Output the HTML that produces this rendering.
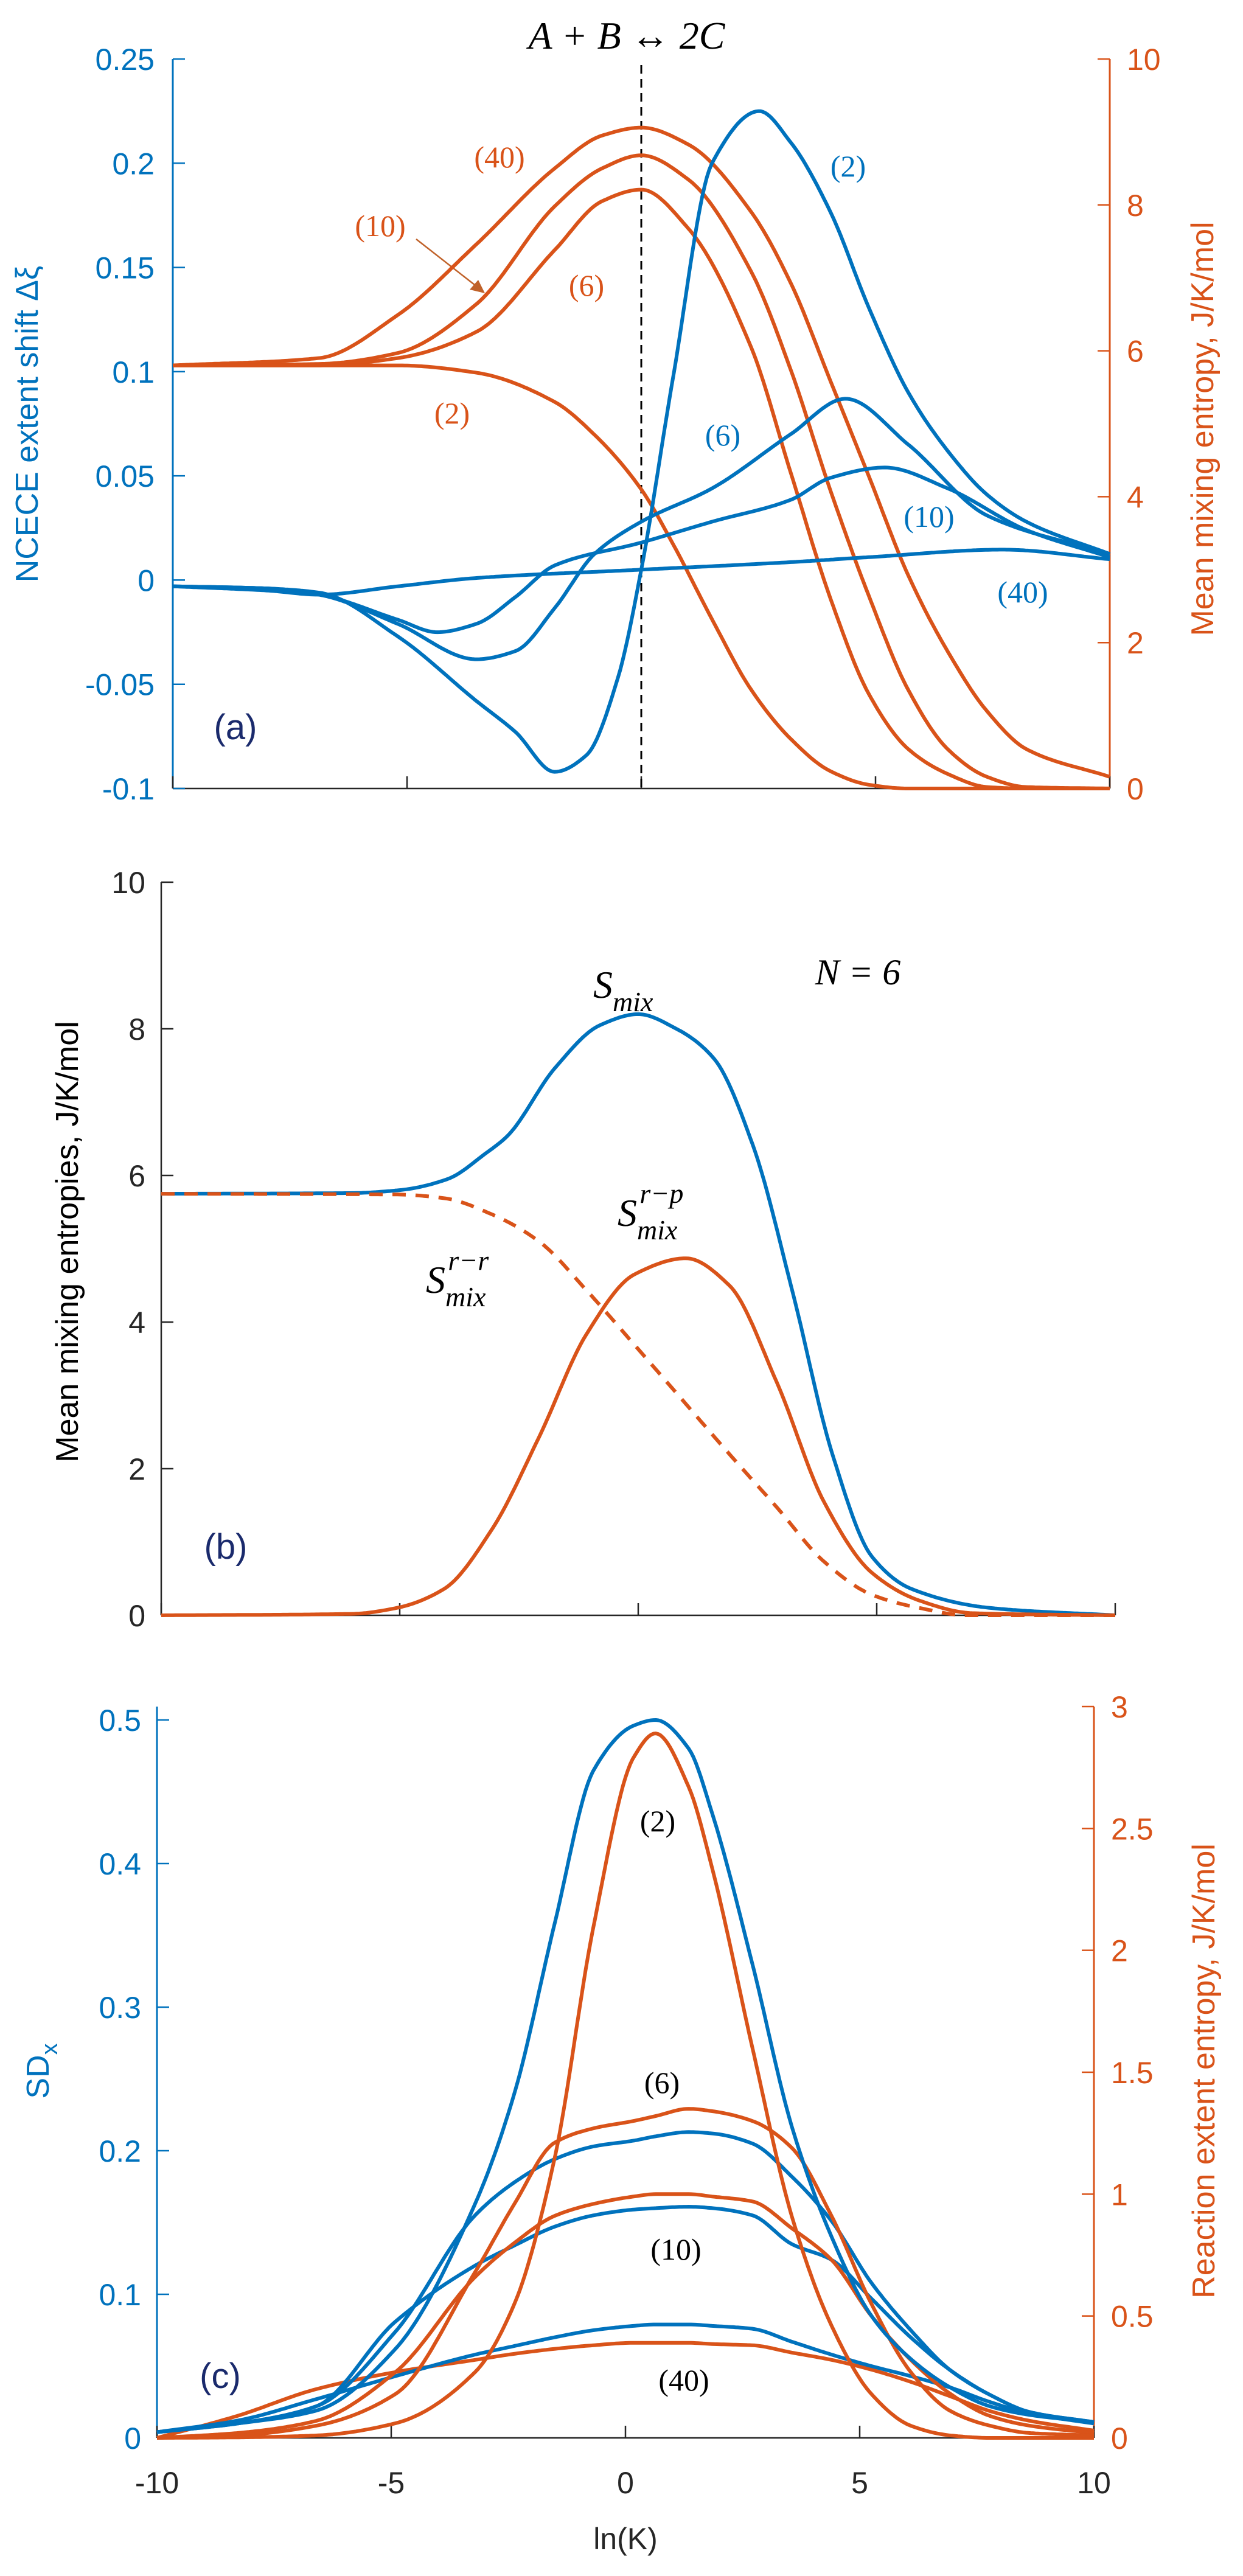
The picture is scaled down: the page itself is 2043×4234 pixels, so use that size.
<!DOCTYPE html>
<html><head><meta charset="utf-8">
<style>
html,body{margin:0;padding:0;background:#fff;}
svg{display:block;}
text{font-family:"Liberation Sans",Arial,sans-serif;}
.ser{font-family:"Liberation Serif","DejaVu Serif",serif;font-style:italic;}
.lbl{font-family:"Liberation Serif","DejaVu Serif",serif;}
</style></head>
<body>
<svg id="fig" width="2043" height="4234" viewBox="0 0 2043 4234" xmlns="http://www.w3.org/2000/svg"></svg>
<script>
// ---------- Panel (a) data ----------
const aX2  = [-10,-8,-6.88,-5.2,-3.52,-2.68,-1.85,-1.17,-0.5,0,0.67,1.51,2.52,3.19,4.03,4.87,5.7,6.54,7.38,8.22,10];
const aB2  = [-0.003,-0.004,-0.006,-0.027,-0.058,-0.073,-0.092,-0.084,-0.047,0.005,0.096,0.2,0.225,0.21,0.177,0.13,0.09,0.062,0.041,0.028,0.0125];
const aX6  = [-10,-8,-6.88,-5.2,-3.52,-2.68,-1.85,-1.0,0,1.51,3.19,4.36,5.7,7.38,10];
const aB6  = [-0.003,-0.004,-0.007,-0.021,-0.038,-0.034,-0.0135,0.0125,0.028,0.044,0.07,0.087,0.065,0.031,0.0125];
const aX10 = [-10,-8,-6.88,-5.2,-4.36,-3.52,-2.68,-1.85,0,1.51,3.19,4.03,5.2,6.54,8.22,10];
const aB10 = [-0.003,-0.004,-0.007,-0.019,-0.025,-0.021,-0.008,0.007,0.018,0.028,0.0385,0.049,0.054,0.044,0.024,0.011];
const aX40 = [-10,-8,-6.88,-5.2,-3.52,0,3.19,4.87,7.72,10];
const aB40 = [-0.003,-0.005,-0.007,-0.003,0.001,0.005,0.0086,0.011,0.0146,0.010];
const aOX2 = [-10,-5.2,-3.52,-1.85,-1.0,0,0.67,1.51,2.35,3.19,4.03,4.87,5.7,10];
const aO2  = [5.8,5.8,5.7,5.3,4.85,4.1,3.36,2.32,1.35,0.68,0.24,0.05,0,0];
const aOX  = [-10,-6.88,-5.2,-3.52,-1.85,-0.84,0,1.0,2.35,3.19,4.03,4.87,5.7,6.54,7.38,8.22,10];
const aO6  = [5.8,5.8,5.9,6.26,7.38,8.05,8.21,7.68,6.04,4.33,2.62,1.28,0.54,0.2,0.02,0,0];
const aO10 = [5.8,5.82,5.97,6.64,7.98,8.5,8.68,8.35,7.08,5.74,4.1,2.62,1.35,0.54,0.16,0.02,0];
const aO40 = [5.8,5.9,6.49,7.46,8.5,8.95,9.06,8.83,7.9,6.93,5.6,4.26,2.92,1.88,1.06,0.54,0.16];
const aLeftTicks  = [0.25,0.2,0.15,0.1,0.05,0,-0.05,-0.1];
const aLeftLabels = ["0.25","0.2","0.15","0.1","0.05","0","-0.05","-0.1"];
const aRightTicks = [0,2,4,6,8,10];
// ---------- Panel (b) data ----------
const bXs  = [-10,-6,-5,-4,-3.2,-2.74,-1.74,-0.8,0,0.8,1.58,2.41,3.24,4.07,4.9,5.73,7.39,10];
const bSmix= [5.75,5.76,5.8,5.95,6.3,6.54,7.47,8.05,8.2,8.0,7.6,6.4,4.4,2.2,0.8,0.36,0.1,0];
const bXp  = [-10,-6,-5.07,-4.07,-3.07,-2.08,-1.08,-0.08,1.0,1.91,2.91,3.9,4.9,5.9,7.0,10];
const bSrp = [0,0.02,0.1,0.36,1.17,2.43,3.84,4.65,4.87,4.5,3.17,1.54,0.58,0.2,0.03,0];
const bXr  = [-10,-5.07,-4.07,-3.07,-2.08,-1.08,-0.08,0.91,1.91,2.91,3.9,4.9,5.9,6.89,10];
const bSrr = [5.75,5.74,5.69,5.47,5.1,4.43,3.69,2.95,2.2,1.47,0.73,0.28,0.1,0,0];
const bTicks = [0,2,4,6,8,10];
// ---------- Panel (c) data ----------
const cX   = [-10,-8.29,-6.6,-4.91,-3.21,-2.37,-1.52,-0.68,0.17,0.64,1.35,1.86,2.71,3.55,4.4,5.25,6.09,6.94,7.78,8.63,10];
const cB2  = [0.004,0.01,0.019,0.062,0.163,0.24,0.357,0.465,0.496,0.5,0.48,0.434,0.33,0.217,0.14,0.085,0.055,0.035,0.022,0.016,0.011];
const cO2  = [0,0.002,0.01,0.06,0.27,0.55,1.14,2.1,2.79,2.89,2.67,2.33,1.6,0.91,0.46,0.18,0.05,0.01,0,0,0];
const cB6  = [0.004,0.01,0.022,0.074,0.155,0.178,0.194,0.203,0.207,0.21,0.213,0.212,0.205,0.182,0.151,0.108,0.075,0.047,0.03,0.018,0.011];
const cO6  = [0,0.01,0.05,0.18,0.68,0.96,1.21,1.27,1.3,1.32,1.35,1.34,1.3,1.19,0.91,0.55,0.27,0.11,0.05,0.02,0.01];
const cB10 = [0.004,0.01,0.022,0.081,0.12,0.134,0.147,0.155,0.159,0.16,0.161,0.16,0.155,0.135,0.124,0.097,0.07,0.047,0.03,0.018,0.011];
const cO10 = [0,0.02,0.07,0.27,0.66,0.8,0.91,0.96,0.99,1.0,1.0,0.99,0.97,0.86,0.73,0.5,0.32,0.18,0.09,0.05,0.02];
const cB40 = [0.004,0.012,0.027,0.043,0.058,0.064,0.07,0.075,0.078,0.079,0.079,0.078,0.076,0.067,0.058,0.05,0.043,0.035,0.025,0.017,0.01];
const cO40 = [0,0.09,0.2,0.27,0.32,0.345,0.365,0.38,0.39,0.39,0.39,0.385,0.38,0.35,0.32,0.28,0.23,0.17,0.11,0.07,0.03];
const cLeftTicks = [0,0.1,0.2,0.3,0.4,0.5];
const cRightTicks = [0,0.5,1,1.5,2,2.5,3];
const xTicks = [-10,-5,0,5,10];

const BLUE="#0072BD", ORANGE="#D95319", DARK="#262626";
const NS="http://www.w3.org/2000/svg";
const svg=document.getElementById('fig');

function mk(tag,attrs,parent){const e=document.createElementNS(NS,tag);for(const k in attrs)e.setAttribute(k,attrs[k]);(parent||svg).appendChild(e);return e;}
function scale(d0,d1,r0,r1){return v=>r0+(v-d0)*(r1-r0)/(d1-d0);}
// monotone cubic (PCHIP) interpolation, sampled densely
function pchip(xs,ys){
  const n=xs.length,h=[],dl=[],m=new Array(n).fill(0);
  for(let i=0;i<n-1;i++){h.push(xs[i+1]-xs[i]);dl.push((ys[i+1]-ys[i])/h[i]);}
  m[0]=dl[0];m[n-1]=dl[n-2];
  for(let i=1;i<n-1;i++){
    if(dl[i-1]*dl[i]<=0){m[i]=0;}
    else{const w1=2*h[i]+h[i-1],w2=h[i]+2*h[i-1];m[i]=(w1+w2)/(w1/dl[i-1]+w2/dl[i]);}
  }
  return x=>{
    let i=0;while(i<n-2&&x>xs[i+1])i++;
    const t=(x-xs[i])/h[i],t2=t*t,t3=t2*t;
    return (2*t3-3*t2+1)*ys[i]+(t3-2*t2+t)*h[i]*m[i]+(-2*t3+3*t2)*ys[i+1]+(t3-t2)*h[i]*m[i+1];
  };
}
function line(xs,ys,sx,sy,color,name,dash){
  const f=pchip(xs,ys);const N=400;let d="";
  for(let k=0;k<=N;k++){const x=xs[0]+(xs[xs.length-1]-xs[0])*k/N;d+=(k?"L":"M")+sx(x).toFixed(1)+","+sy(f(x)).toFixed(1);}
  const p=mk('path',{d:d,fill:'none',stroke:color,'stroke-width':6,'stroke-linejoin':'round','stroke-linecap':'butt'});
  if(dash)p.setAttribute('stroke-dasharray',dash);
  
  
  return p;
}
function txt(x,y,s,opts){
  const t=mk('text',Object.assign({x:x,y:y},opts||{}));t.textContent=s;return t;
}

// ================= Panel (a) =================
{
const L=284,R=1824,T=97,B=1296;
const sx=scale(-10,10,L,R), sy=scale(-0.1,0.25,B,T), sr=scale(0,10,B,T);
const g=mk('g',{});


mk('line',{x1:L,y1:B,x2:R,y2:B,stroke:DARK,'stroke-width':2.5},g);
mk('line',{x1:L,y1:T,x2:L,y2:B,stroke:BLUE,'stroke-width':3},g);
mk('line',{x1:R,y1:T,x2:R,y2:B,stroke:ORANGE,'stroke-width':3},g);
aLeftTicks.forEach((v,i)=>{
  mk('line',{x1:L,y1:sy(v),x2:L+20,y2:sy(v),stroke:BLUE,'stroke-width':2.5},g);
  const t=txt(L-30,sy(v)+18,aLeftLabels[i],{'text-anchor':'end','font-size':50,fill:BLUE});
  
  
});
aRightTicks.forEach(v=>{
  mk('line',{x1:R,y1:sr(v),x2:R-20,y2:sr(v),stroke:ORANGE,'stroke-width':2.5},g);
  const t=txt(R+28,sr(v)+18,String(v),{'text-anchor':'start','font-size':50,fill:ORANGE});
  
  
});
xTicks.forEach(v=>{mk('line',{x1:sx(v),y1:B,x2:sx(v),y2:B-20,stroke:DARK,'stroke-width':2.5},g);});
const dl=mk('line',{x1:sx(0),y1:T+10,x2:sx(0),y2:B,stroke:'#000','stroke-width':3,'stroke-dasharray':'14,9'},g);


line(aOX,aO40,sx,sr,ORANGE,'a-entropy-n40');
line(aOX,aO10,sx,sr,ORANGE,'a-entropy-n10');
line(aOX,aO6,sx,sr,ORANGE,'a-entropy-n6');
line(aOX2,aO2,sx,sr,ORANGE,'a-entropy-n2');
line(aX2,aB2,sx,sy,BLUE,'a-shift-n2');
line(aX6,aB6,sx,sy,BLUE,'a-shift-n6');
line(aX10,aB10,sx,sy,BLUE,'a-shift-n10');
line(aX40,aB40,sx,sy,BLUE,'a-shift-n40');
const ttl=txt(1030,80,'A + B ↔ 2C',{'text-anchor':'middle','font-size':64,fill:'#000',class:'ser'});


const yl=txt(0,0,'NCECE extent shift Δξ',{'text-anchor':'middle','font-size':52,fill:BLUE,transform:'translate(62,697) rotate(-90)'});


const yr=txt(0,0,'Mean mixing entropy, J/K/mol',{'text-anchor':'middle','font-size':52,fill:ORANGE,transform:'translate(1994,705) rotate(-90)'});


[['(40)',821,275,ORANGE],['(10)',625,388,ORANGE],['(6)',964,486,ORANGE],['(2)',743,696,ORANGE],
 ['(2)',1394,290,BLUE],['(6)',1188,732,BLUE],['(10)',1527,866,BLUE],['(40)',1681,990,BLUE]].forEach(a=>{
  const t=txt(a[1],a[2],a[0],{'text-anchor':'middle','font-size':50,fill:a[3],class:'lbl'});
  
  
});
mk('line',{x1:684,y1:393,x2:785,y2:472,stroke:'#C0622A','stroke-width':2.5},g);
mk('polygon',{points:'797,482 772,476 786,460',fill:'#C0622A'},g);
const pa=txt(387,1215,'(a)',{'text-anchor':'middle','font-size':58,fill:'#1a2a6c'});


}

// ================= Panel (b) =================
{
const L=265,R=1833,T=1450,B=2655;
const sx=scale(-10,10,L,R), sy=scale(0,10,B,T);
mk('line',{x1:L,y1:B,x2:R,y2:B,stroke:DARK,'stroke-width':2.5});
mk('line',{x1:L,y1:T,x2:L,y2:B,stroke:DARK,'stroke-width':2.5});
bTicks.forEach(v=>{
  mk('line',{x1:L,y1:sy(v),x2:L+20,y2:sy(v),stroke:DARK,'stroke-width':2.5});
  const t=txt(L-26,sy(v)+18,String(v),{'text-anchor':'end','font-size':50,fill:DARK});
  
  
});
xTicks.forEach(v=>{mk('line',{x1:sx(v),y1:B,x2:sx(v),y2:B-20,stroke:DARK,'stroke-width':2.5});});
line(bXs,bSmix,sx,sy,BLUE,'b-smix');
line(bXp,bSrp,sx,sy,ORANGE,'b-smix-rp');
line(bXr,bSrr,sx,sy,ORANGE,'b-smix-rr','22,16');
const yl=txt(0,0,'Mean mixing entropies, J/K/mol',{'text-anchor':'middle','font-size':52,fill:'#000',transform:'translate(128,2041) rotate(-90)'});


const n6=txt(1410,1618,'N = 6',{'text-anchor':'middle','font-size':60,fill:'#000',class:'ser'});


function sLabel(x,y,sub,sup,name){
  const t=mk('text',{x:x,y:y,'font-size':64,fill:'#000',class:'ser'});
  
  
  const a=mk('tspan',{},t);a.textContent='S';
  const s1=mk('tspan',{'font-size':46,dy:22},t);s1.textContent=sub;
  if(sup){const s2=mk('tspan',{'font-size':46,dx:-62,dy:-60},t);s2.textContent=sup;}
}
sLabel(975,1640,'mix',null,'smix-label');
sLabel(1015,2015,'mix','r−p','smix-rp-label');
sLabel(700,2125,'mix','r−r','smix-rr-label');
const pb=txt(371,2562,'(b)',{'text-anchor':'middle','font-size':58,fill:'#1a2a6c'});


}

// ================= Panel (c) =================
{
const L=258,R=1798,T=2827,B=4007;
const sx=scale(-10,10,L,R), sy=scale(0,0.5,B,T), sr=scale(0,3,B,2805);
mk('line',{x1:L,y1:B,x2:R,y2:B,stroke:DARK,'stroke-width':2.5});
mk('line',{x1:L,y1:2805,x2:L,y2:B,stroke:BLUE,'stroke-width':3});
mk('line',{x1:R,y1:2805,x2:R,y2:B,stroke:ORANGE,'stroke-width':3});
cLeftTicks.forEach(v=>{
  mk('line',{x1:L,y1:sy(v),x2:L+20,y2:sy(v),stroke:BLUE,'stroke-width':2.5});
  const t=txt(L-26,sy(v)+18,String(v),{'text-anchor':'end','font-size':50,fill:BLUE});
  
  
});
cRightTicks.forEach(v=>{
  mk('line',{x1:R,y1:sr(v),x2:R-20,y2:sr(v),stroke:ORANGE,'stroke-width':2.5});
  const t=txt(R+28,sr(v)+18,String(v),{'text-anchor':'start','font-size':50,fill:ORANGE});
  
  
});
xTicks.forEach(v=>{
  mk('line',{x1:sx(v),y1:B,x2:sx(v),y2:B-20,stroke:DARK,'stroke-width':2.5});
  const t=txt(sx(v),4098,String(v),{'text-anchor':'middle','font-size':50,fill:DARK});
  
  
});
line(cX,cO40,sx,sr,ORANGE,'c-entropy-n40');
line(cX,cB40,sx,sy,BLUE,'c-sd-n40');
line(cX,cB10,sx,sy,BLUE,'c-sd-n10');
line(cX,cO10,sx,sr,ORANGE,'c-entropy-n10');
line(cX,cB6,sx,sy,BLUE,'c-sd-n6');
line(cX,cO6,sx,sr,ORANGE,'c-entropy-n6');
line(cX,cB2,sx,sy,BLUE,'c-sd-n2');
line(cX,cO2,sx,sr,ORANGE,'c-entropy-n2');
const xl=txt(1028,4190,'ln(K)',{'text-anchor':'middle','font-size':50,fill:DARK});


const yl=mk('text',{'text-anchor':'middle','font-size':52,fill:BLUE,transform:'translate(80,3404) rotate(-90)'});


const y1=mk('tspan',{},yl);y1.textContent='SD';
const y2=mk('tspan',{'font-size':38,dy:14},yl);y2.textContent='x';
const yr=txt(0,0,'Reaction extent entropy, J/K/mol',{'text-anchor':'middle','font-size':52,fill:ORANGE,transform:'translate(1996,3404) rotate(-90)'});


[['(2)',1081,3010],['(6)',1088,3440],['(10)',1111,3714],['(40)',1124,3929]].forEach(a=>{
  const t=txt(a[1],a[2],a[0],{'text-anchor':'middle','font-size':50,fill:'#000',class:'lbl'});
  
  
});
const pc=txt(362,3925,'(c)',{'text-anchor':'middle','font-size':58,fill:'#1a2a6c'});


}
</script>
</body></html>
